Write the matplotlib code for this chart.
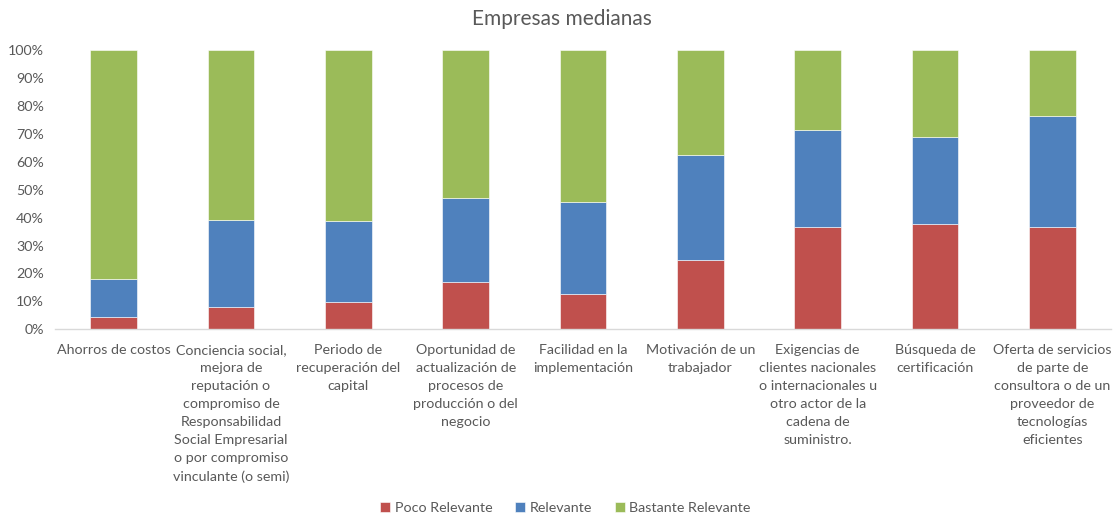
import numpy as np
import matplotlib
matplotlib.use("Agg")
import matplotlib.pyplot as plt
from matplotlib.ticker import FuncFormatter

categories = [
    "Ahorros de costos",
    "Conciencia social,\nmejora de\nreputación o\ncompromiso de\nResponsabilidad\nSocial Empresarial\no por compromiso\nvinculante (o semi)",
    "Periodo de\nrecuperación del\ncapital",
    "Oportunidad de\nactualización de\nprocesos de\nproducción o del\nnegocio",
    "Facilidad en la\nimplementación",
    "Motivación de un\ntrabajador",
    "Exigencias de\nclientes nacionales\no internacionales u\notro actor de la\ncadena de\nsuministro.",
    "Búsqueda de\ncertificación",
    "Oferta de servicios\nde parte de\nconsultora o de un\nproveedor de\ntecnologías\neficientes",
]
poco = [4.3, 7.9, 9.9, 17.0, 12.6, 24.8, 36.6, 37.6, 36.6]
relevante = [13.8, 31.2, 28.8, 29.9, 33.1, 37.5, 34.8, 31.3, 39.8]
bastante = [81.9, 60.9, 61.3, 53.1, 54.3, 37.7, 28.6, 31.1, 23.6]

series = ["Poco Relevante", "Relevante", "Bastante Relevante"]
colors = ["#C0504D", "#4F81BD", "#9BBB59"]
text_color = "#595959"

plt.rcParams["font.family"] = ["Lato", "DejaVu Sans"]

fig = plt.figure(figsize=(11.15, 5.19), dpi=100)
ax = fig.add_axes([0.0493, 0.3655, 0.9471, 0.5382])

x = np.arange(len(categories))
bottom = np.zeros(len(categories))
for vals, name, col in zip([poco, relevante, bastante], series, colors):
    ax.bar(x, vals, width=0.4, bottom=bottom, color=col, label=name,
           edgecolor="white", linewidth=0.4)
    bottom += np.array(vals)

ax.set_xlim(-0.5, len(categories) - 0.5)
ax.set_ylim(0, 100)
ax.set_yticks(range(0, 101, 10))
ax.yaxis.set_major_formatter(FuncFormatter(lambda v, p: f"{int(v)}%"))
ax.set_xticks(x)
ax.set_xticklabels([])
ax.tick_params(axis="both", length=0, colors=text_color, labelsize=10.3)
ax.tick_params(axis="y", pad=8)

# category labels drawn as text so the line spacing sticks
trans = ax.get_xaxis_transform()
for xi, lab in zip(x, categories):
    ax.text(xi, -0.052, lab, transform=trans, ha="center", va="top",
            fontsize=10.3, color=text_color, linespacing=1.6)

for s in ["top", "right", "left"]:
    ax.spines[s].set_visible(False)
ax.spines["bottom"].set_color("#D9D9D9")
ax.spines["bottom"].set_linewidth(1)

fig.text(0.504, 0.963, "Empresas medianas", ha="center", va="center",
         fontsize=15, color=text_color)

leg = fig.legend(loc="center", bbox_to_anchor=(0.507, 0.021), ncol=3,
                 frameon=False, fontsize=10.3, handlelength=0.7,
                 handleheight=0.7, handletextpad=0.3, columnspacing=1.6)
for t in leg.get_texts():
    t.set_color(text_color)

fig.savefig("out.png", dpi=100)
